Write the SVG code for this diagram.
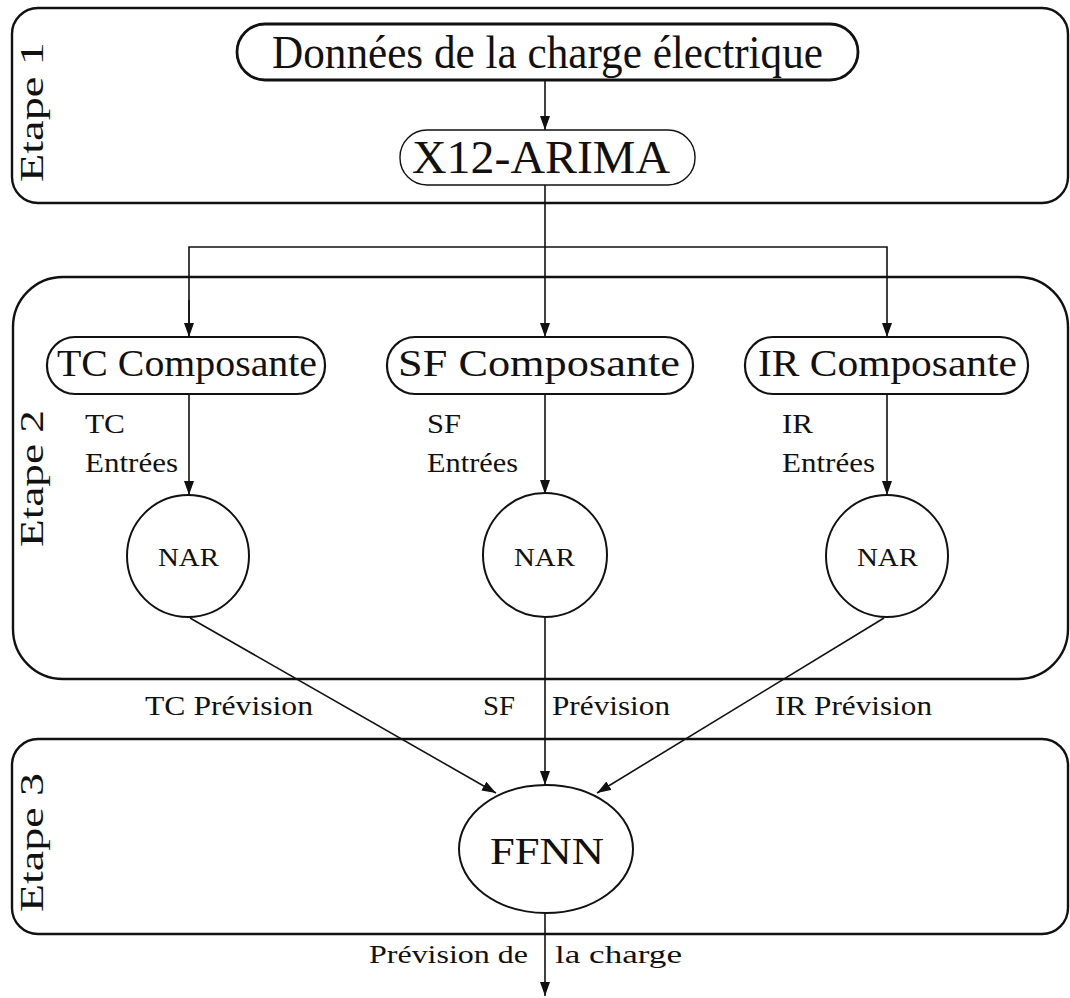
<svg xmlns="http://www.w3.org/2000/svg" width="1070" height="998" viewBox="0 0 1070 998" font-family="'Liberation Serif', 'Times New Roman', serif">
<style>
text{font-family:'Liberation Serif', 'Times New Roman', serif;fill:#111}
.stage{fill:none;stroke:#111;stroke-width:2.4}
.pill{fill:#fff;stroke:#111;stroke-width:2.2}
.thin{fill:#fff;stroke:#111;stroke-width:1.4}
.node{fill:#fff;stroke:#111;stroke-width:2}
.conn{fill:none;stroke:#111;stroke-width:1.6}
.big{font-size:46px}
.mid{font-size:38px}
.lab{font-size:28px}
.stg{font-size:34px}
.nar{font-size:26px}
</style>
<defs>
<marker id="ah" markerUnits="userSpaceOnUse" markerWidth="15" markerHeight="11" refX="14" refY="5" orient="auto">
<path d="M0,0 L14,5 L0,10 z" fill="#111"/>
</marker>
</defs>
<rect width="1070" height="998" fill="#fff"/>

<g id="stage1">
<rect class="stage" x="12" y="8" width="1056" height="195" rx="26" ry="26"/>
<text class="stg" transform="translate(43,182) rotate(-90)" textLength="140" lengthAdjust="spacingAndGlyphs">Etape 1</text>
</g>
<g id="stage2">
<rect class="stage" x="13" y="277" width="1055" height="402" rx="50" ry="50"/>
<text class="stg" transform="translate(43,547) rotate(-90)" textLength="137" lengthAdjust="spacingAndGlyphs">Etape 2</text>
</g>
<g id="stage3">
<rect class="stage" x="12" y="739" width="1056" height="195" rx="26" ry="26"/>
<text class="stg" transform="translate(43,912) rotate(-90)" textLength="139" lengthAdjust="spacingAndGlyphs">Etape 3</text>
</g>

<g id="connectors">
<line class="conn" x1="545" y1="80" x2="545" y2="130" marker-end="url(#ah)"/>
<polyline class="conn" points="545,185 545,247"/>
<polyline class="conn" points="189,337 189,247 887,247 887,337" marker-end="url(#ah)"/>
<line class="conn" x1="189" y1="300" x2="189" y2="337" marker-end="url(#ah)"/>
<line class="conn" x1="545" y1="247" x2="545" y2="337" marker-end="url(#ah)"/>
<line class="conn" x1="189" y1="394" x2="189" y2="495" marker-end="url(#ah)"/>
<line class="conn" x1="545" y1="394" x2="545" y2="494" marker-end="url(#ah)"/>
<line class="conn" x1="887" y1="394" x2="887" y2="495" marker-end="url(#ah)"/>
<line class="conn" x1="190" y1="618" x2="496" y2="793" marker-end="url(#ah)"/>
<line class="conn" x1="545" y1="618" x2="545" y2="785" marker-end="url(#ah)"/>
<line class="conn" x1="884" y1="618" x2="597" y2="793" marker-end="url(#ah)"/>
<line class="conn" x1="545" y1="913" x2="545" y2="996" marker-end="url(#ah)"/>
</g>

<g id="data">
<rect class="pill" x="237" y="24" width="621" height="56" rx="28" ry="28" style="stroke-width:2.8"/>
<text class="big" x="272" y="68" textLength="551" lengthAdjust="spacingAndGlyphs">Données de la charge électrique</text>
</g>
<g id="x12">
<rect class="thin" x="400" y="130" width="295" height="55" rx="27" ry="27"/>
<text class="big" x="412" y="173" textLength="258" lengthAdjust="spacingAndGlyphs">X12-ARIMA</text>
</g>

<g id="tc">
<rect class="pill" x="47" y="337" width="278" height="57" rx="28" ry="28"/>
<text class="mid" x="57" y="376" textLength="260" lengthAdjust="spacingAndGlyphs">TC Composante</text>
</g>
<g id="sf">
<rect class="pill" x="387" y="337" width="306" height="57" rx="28" ry="28"/>
<text class="mid" x="398" y="376" textLength="282" lengthAdjust="spacingAndGlyphs">SF Composante</text>
</g>
<g id="ir">
<rect class="pill" x="745" y="337" width="283" height="57" rx="28" ry="28"/>
<text class="mid" x="758" y="376" textLength="259" lengthAdjust="spacingAndGlyphs">IR Composante</text>
</g>

<g id="tc-inputs"><text class="lab" x="85" y="433" textLength="40" lengthAdjust="spacingAndGlyphs">TC</text><text class="lab" x="85" y="472" textLength="93" lengthAdjust="spacingAndGlyphs">Entrées</text></g>
<g id="sf-inputs"><text class="lab" x="427" y="433" textLength="34" lengthAdjust="spacingAndGlyphs">SF</text><text class="lab" x="427" y="472" textLength="91" lengthAdjust="spacingAndGlyphs">Entrées</text></g>
<g id="ir-inputs"><text class="lab" x="782" y="433" textLength="31" lengthAdjust="spacingAndGlyphs">IR</text><text class="lab" x="782" y="472" textLength="93" lengthAdjust="spacingAndGlyphs">Entrées</text></g>

<g id="nar-tc"><circle class="node" cx="188" cy="556" r="61"/><text class="nar" x="158" y="566" textLength="61" lengthAdjust="spacingAndGlyphs">NAR</text></g>
<g id="nar-sf"><circle class="node" cx="545" cy="555" r="62"/><text class="nar" x="514" y="566" textLength="61" lengthAdjust="spacingAndGlyphs">NAR</text></g>
<g id="nar-ir"><circle class="node" cx="887" cy="556" r="61"/><text class="nar" x="857" y="566" textLength="61" lengthAdjust="spacingAndGlyphs">NAR</text></g>

<g id="forecast-labels">
<text class="lab" x="145" y="715" textLength="168" lengthAdjust="spacingAndGlyphs">TC Prévision</text>
<text class="lab" y="715"><tspan x="483" textLength="32" lengthAdjust="spacingAndGlyphs">SF</tspan><tspan x="552" textLength="118" lengthAdjust="spacingAndGlyphs">Prévision</tspan></text>
<text class="lab" x="775" y="715" textLength="157" lengthAdjust="spacingAndGlyphs">IR Prévision</text>
</g>

<g id="ffnn">
<ellipse class="node" cx="546" cy="849" rx="87" ry="64"/>
<text x="490" y="864" font-size="38" textLength="114" lengthAdjust="spacingAndGlyphs">FFNN</text>
</g>

<g id="output-label">
<text font-size="25" y="963"><tspan x="369" textLength="159" lengthAdjust="spacingAndGlyphs">Prévision de</tspan><tspan x="555" textLength="127" lengthAdjust="spacingAndGlyphs">la charge</tspan></text>
</g>
</svg>
